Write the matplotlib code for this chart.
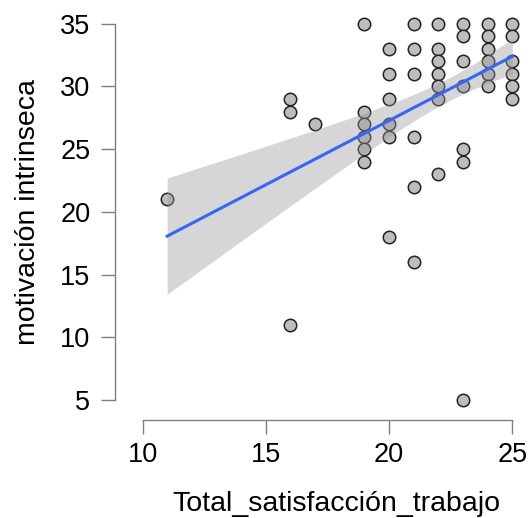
import matplotlib
matplotlib.use("Agg")
import matplotlib.pyplot as plt
import numpy as np

plt.rcParams["font.family"] = ["Liberation Sans", "DejaVu Sans"]

# distinct (Total_satisfacción_trabajo, motivación intrinseca) points read off
# the chart, with an estimated number of respondents stacked on each point
sat = [11,
       16, 16, 16,
       17,
       19, 19, 19, 19, 19, 19,
       20, 20, 20, 20, 20, 20,
       21, 21, 21, 21, 21, 21,
       22, 22, 22, 22, 22, 22, 22,
       23, 23, 23, 23, 23, 23, 23,
       24, 24, 24, 24, 24, 24,
       25, 25, 25, 25, 25, 25]
mot = [21,
       29, 28, 11,
       27,
       35, 28, 27, 26, 25, 24,
       33, 31, 29, 27, 26, 18,
       35, 33, 31, 26, 22, 16,
       35, 33, 32, 31, 30, 29, 23,
       35, 34, 32, 30, 25, 24, 5,
       35, 34, 33, 32, 31, 30,
       35, 34, 32, 31, 30, 29]
count = [1,
         1, 1, 1,
         1,
         3, 1, 1, 1, 1, 3,
         1, 1, 1, 1, 1, 3,
         4, 1, 1, 1, 3, 3,
         7, 1, 1, 1, 1, 5, 6,
         11, 5, 1, 1, 4, 6, 1,
         7, 1, 1, 1, 3, 9,
         11, 1, 1, 1, 5, 3]

x = np.repeat(np.array(sat, dtype=float), count)
y = np.repeat(np.array(mot, dtype=float), count)

# linear fit + 95% confidence band (geom_smooth(method="lm") style)
n = len(x)
b1, b0 = np.polyfit(x, y, 1)
resid = y - (b0 + b1 * x)
s = np.sqrt(np.sum(resid ** 2) / (n - 2))
t_crit = 1.979  # t(0.975, df~128)
xs = np.linspace(min(sat), max(sat), 200)
ys = b0 + b1 * xs
se = s * np.sqrt(1 / n + (xs - x.mean()) ** 2 / np.sum((x - x.mean()) ** 2))

fig = plt.figure(figsize=(5.3, 5.18), dpi=100)
ax = fig.add_axes([0.2689, 0.1915, 0.7304, 0.799])

ax.scatter(sat, mot, s=80, facecolor="#bdbdbd", edgecolor="#222222", linewidth=1.1, zorder=2)
ax.fill_between(xs, ys - t_crit * se, ys + t_crit * se, color="#999999", alpha=0.4,
                linewidth=0, zorder=3)
ax.plot(xs, ys, color="#3366FF", lw=2.2, zorder=4)

ax.set_xlim(10.3, 25.7)
ax.set_ylim(3.5, 36.5)
ax.set_xticks([10, 15, 20, 25])
ax.set_yticks([5, 10, 15, 20, 25, 30, 35])

for side in ("top", "right"):
    ax.spines[side].set_visible(False)
ax.spines["left"].set_bounds(5, 35)
ax.spines["bottom"].set_bounds(10, 25)
ax.spines["left"].set_position(("outward", 19.5))
ax.spines["bottom"].set_position(("outward", 1))
for side in ("left", "bottom"):
    ax.spines[side].set_color("#7f7f7f")
    ax.spines[side].set_linewidth(1.0)

ax.tick_params(axis="both", length=10, width=1.0, color="#7f7f7f",
               labelsize=19.5, labelcolor="black")
ax.tick_params(axis="y", pad=8)
ax.tick_params(axis="x", pad=6)
ax.set_xlabel("Total_satisfacción_trabajo", fontsize=20.5, va="baseline")
ax.set_ylabel("motivación intrinseca", fontsize=20.5, va="baseline")
ax.xaxis.set_label_coords(0.5, -0.222)
ax.yaxis.set_label_coords(-0.278, 0.5)

fig.savefig("out.png", dpi=100)
